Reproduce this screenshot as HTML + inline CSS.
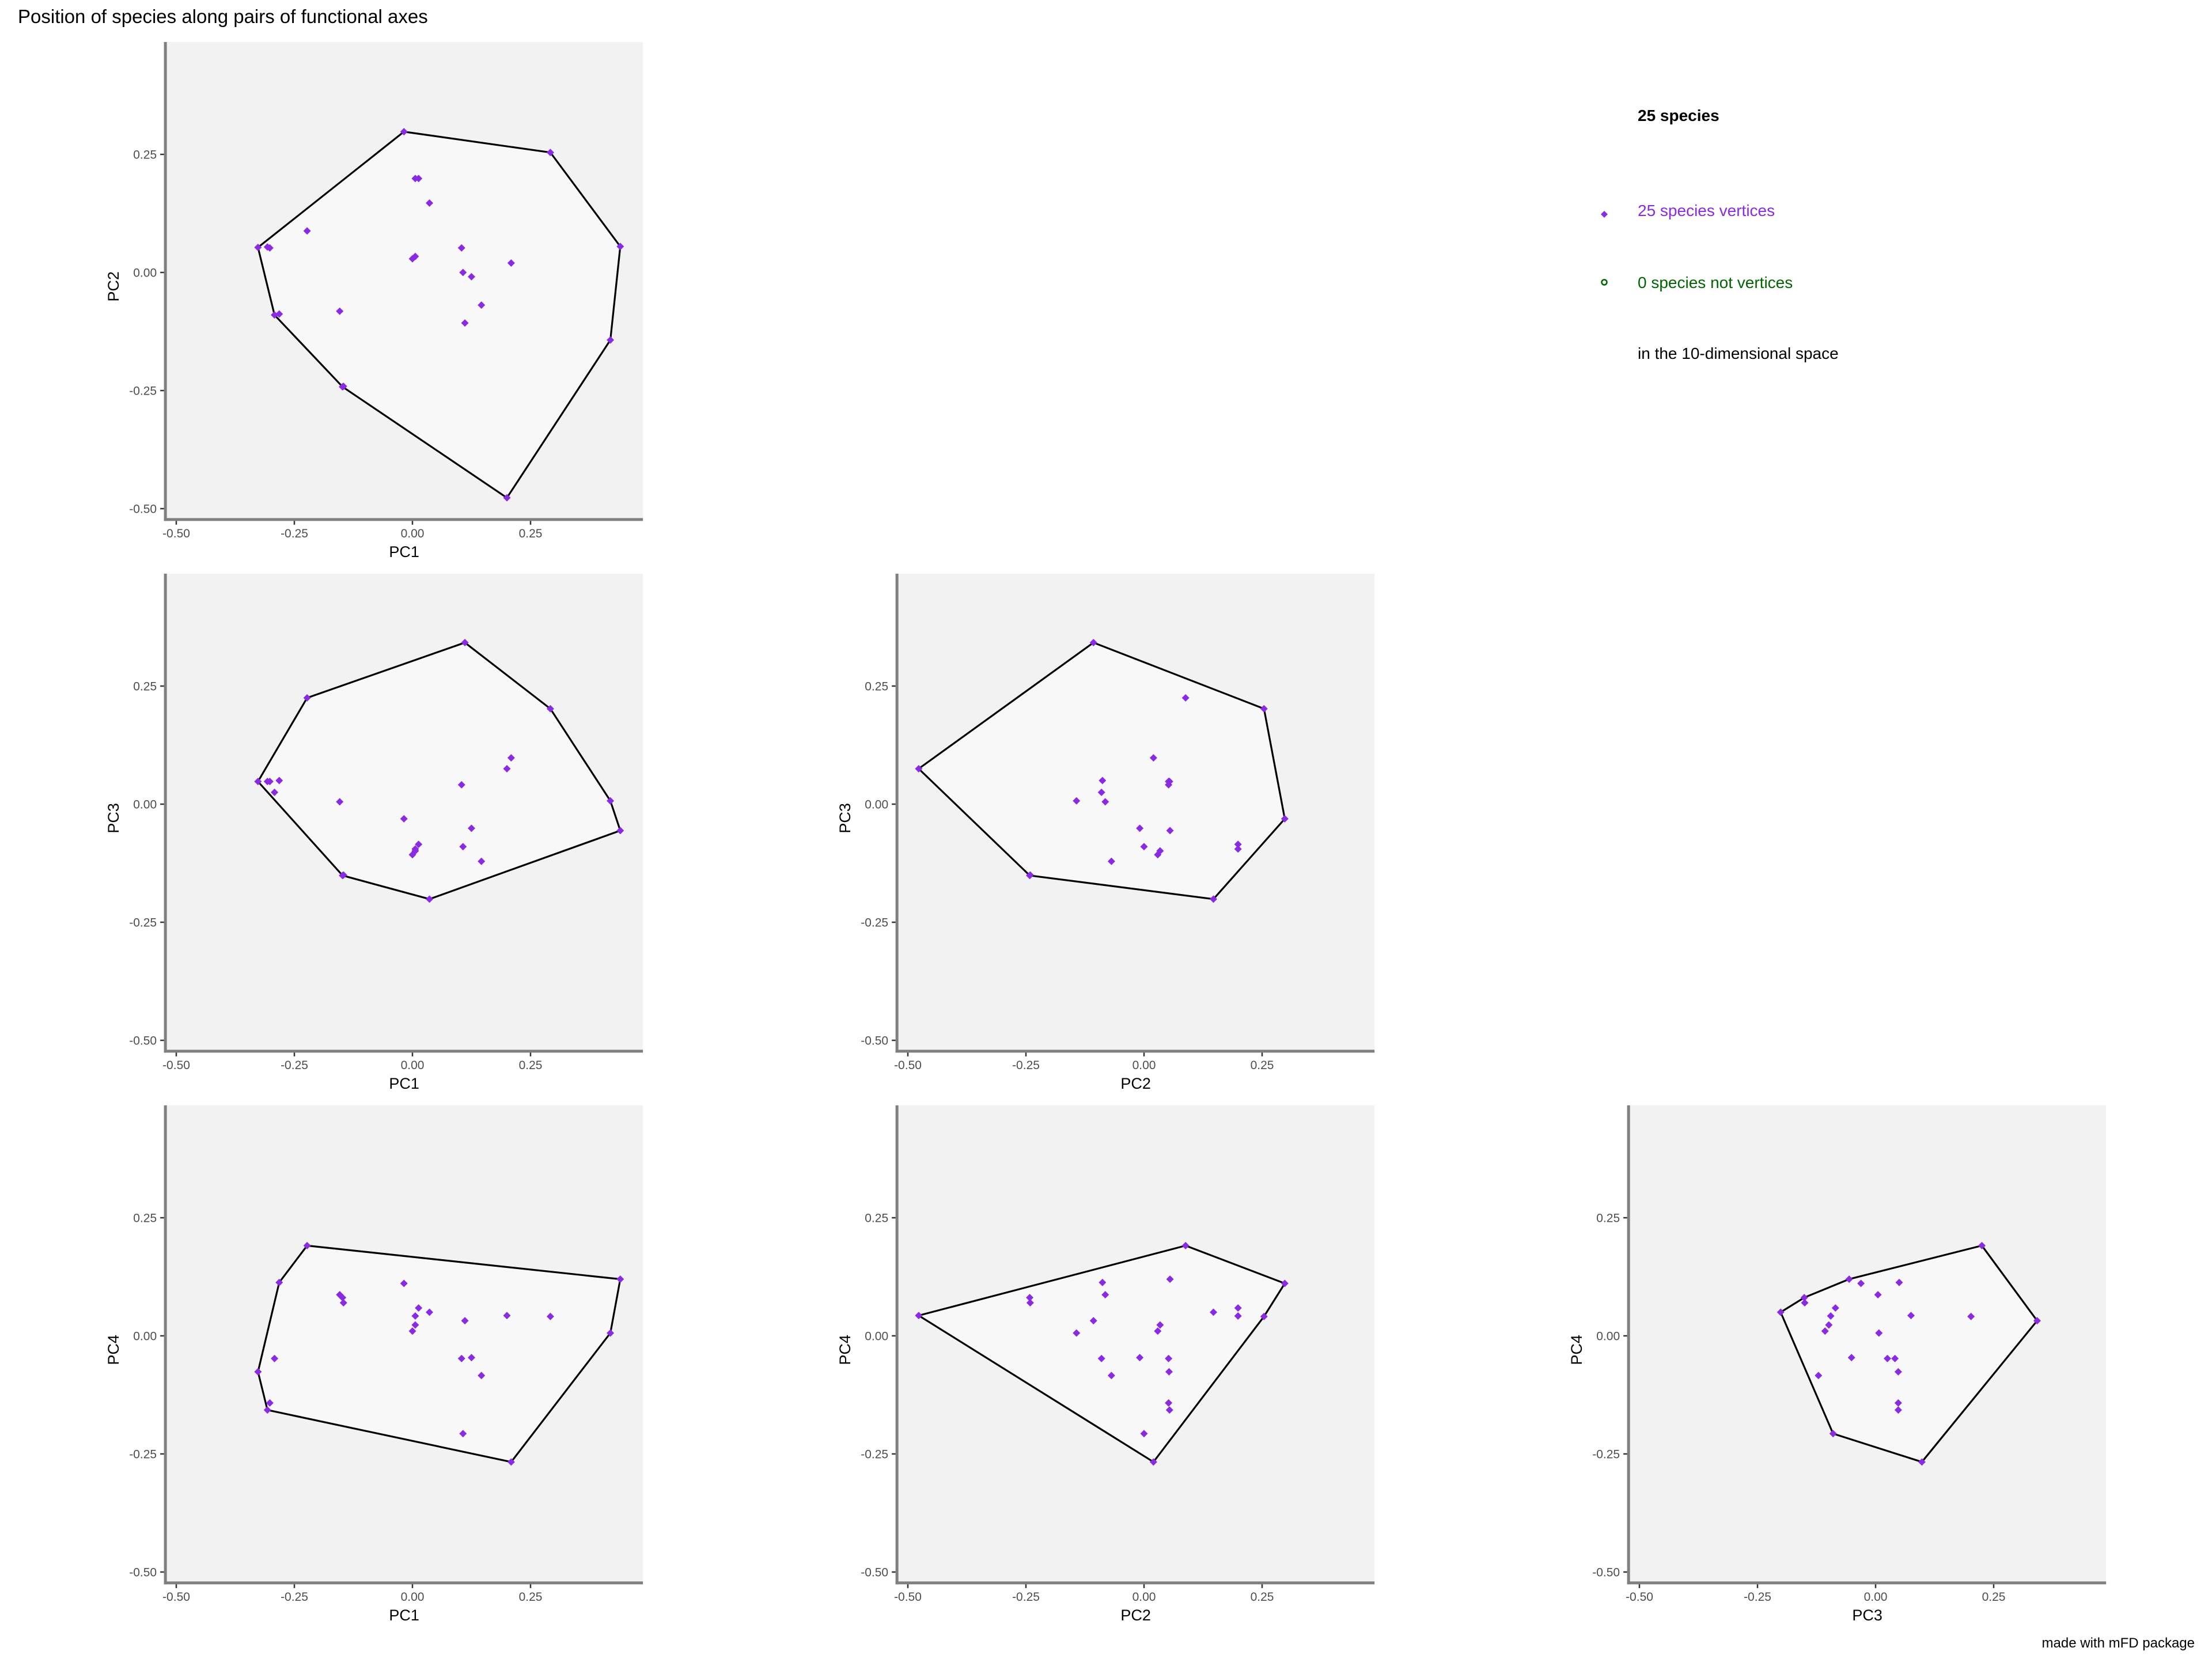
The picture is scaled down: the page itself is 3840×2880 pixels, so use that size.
<!DOCTYPE html>
<html><head><meta charset="utf-8"><style>
html,body{margin:0;padding:0;background:#fff;}
svg{display:block;font-family:"Liberation Sans",Arial,sans-serif;}
</style></head><body>
<svg id="fig" width="3840" height="2880" viewBox="0 0 3840 2880" xmlns="http://www.w3.org/2000/svg">
<rect width="3840" height="2880" fill="#fff"/>
<text x="31" y="40" font-size="33" fill="#000">Position of species along pairs of functional axes</text>
<g>
<text x="2843" y="210" font-size="28" font-weight="bold" fill="#000">25 species</text>
<path d="M2785 366 l6 6 l-6 6 l-6 -6z" fill="#8A2BE2"/>
<text x="2843" y="375" font-size="28" fill="#8A2BE2">25 species vertices</text>
<circle cx="2785" cy="490" r="4.5" fill="none" stroke="#006400" stroke-width="2.5"/>
<text x="2843" y="500" font-size="28" fill="#006400">0 species not vertices</text>
<text x="2843" y="623" font-size="28" fill="#000">in the 10-dimensional space</text>
</g>
<text x="3810" y="2860" font-size="24" text-anchor="end" fill="#000">made with mFD package</text>
<g id="panels"></g>
</svg>
<script>
// Species coordinates on functional axes (one entry per species)
const pc1 = [-0.018,0.292,0.440,0.419,0.200,-0.148,-0.146,-0.292,-0.282,-0.327,-0.307,-0.302,-0.223,-0.154,0.006,0.013,0.036,0.000,0.006,0.104,0.107,0.125,0.209,0.146,0.111];
const pc2 = [0.298,0.254,0.055,-0.143,-0.477,-0.242,-0.241,-0.090,-0.088,0.053,0.054,0.052,0.088,-0.082,0.199,0.199,0.147,0.029,0.034,0.052,0.000,-0.009,0.020,-0.069,-0.107];
const pc3 = [-0.031,0.202,-0.056,0.007,0.075,-0.151,-0.150,0.025,0.050,0.048,0.048,0.048,0.225,0.005,-0.095,-0.085,-0.201,-0.107,-0.099,0.041,-0.090,-0.051,0.098,-0.121,0.342];
const pc4 = [0.111,0.041,0.120,0.006,0.043,0.081,0.070,-0.048,0.113,-0.076,-0.157,-0.142,0.191,0.087,0.042,0.059,0.050,0.010,0.023,-0.048,-0.207,-0.046,-0.267,-0.084,0.032];
const tickValues = [-0.5,-0.25,0,0.25];
const tickLabels = ["-0.50","-0.25","0.00","0.25"];
const axisNames = ["PC1","PC2","PC3","PC4"];

const NS = "http://www.w3.org/2000/svg";
const axes = [pc1,pc2,pc3,pc4];
const colX0 = [716,1986,3256];
const rowY0 = [473,1396,2319];
const S = 820, LO = -0.523, HI = 0.488;
const root = document.getElementById('panels');
function mk(tag, attrs, parent){const e=document.createElementNS(NS,tag);for(const k in attrs)e.setAttribute(k,attrs[k]);parent.appendChild(e);return e;}
function hull(pts){
  const p=pts.slice().sort((a,b)=>a[0]-b[0]||a[1]-b[1]);
  const cr=(o,a,b)=>(a[0]-o[0])*(b[1]-o[1])-(a[1]-o[1])*(b[0]-o[0]);
  const lo=[],up=[];
  for(const q of p){while(lo.length>=2&&cr(lo[lo.length-2],lo[lo.length-1],q)<=0)lo.pop();lo.push(q);}
  for(let i=p.length-1;i>=0;i--){const q=p[i];while(up.length>=2&&cr(up[up.length-2],up[up.length-1],q)<=0)up.pop();up.push(q);}
  lo.pop();up.pop();return lo.concat(up);
}
const pairs=[[0,1,0,0],[0,2,1,0],[1,2,1,1],[0,3,2,0],[1,3,2,1],[2,3,2,2]];
pairs.forEach(([ax,ay,r,c])=>{
  const x0=colX0[c], y0=rowY0[r];
  const sx=v=>x0+v*S, sy=v=>y0-v*S;
  const g=mk('g',{},root);
  
  
  const L=sx(LO),R=sx(HI),T=sy(HI),B=sy(LO);
  const bg=mk('rect',{x:L,y:T,width:R-L,height:B-T,fill:'#F2F2F2'},g);
  
  
  const xs=axes[ax], ys=axes[ay];
  const pts=xs.map((v,i)=>[v,ys[i]]);
  const h=hull(pts);
  const poly=mk('polygon',{points:h.map(p=>sx(p[0])+','+sy(p[1])).join(' '),fill:'#F8F8F8',stroke:'#000','stroke-width':3.2,'stroke-linejoin':'round'},g);
  
  
  pts.forEach(p=>{
    const d=mk('path',{d:`M${sx(p[0])} ${sy(p[1])-6.5} l6.5 6.5 l-6.5 6.5 l-6.5 -6.5z`,fill:'#8A2BE2'},g);
    
    
  });
  // axes lines
  const yl=mk('line',{x1:L,y1:T,x2:L,y2:B+2.5,stroke:'#7F7F7F','stroke-width':5},g);
  
  
  const xl=mk('line',{x1:L-2.5,y1:B,x2:R,y2:B,stroke:'#7F7F7F','stroke-width':5},g);
  
  
  tickValues.forEach((v,i)=>{
    mk('line',{x1:sx(v),y1:B+2.5,x2:sx(v),y2:B+9,stroke:'#333','stroke-width':2.5},g);
    const tx=mk('text',{x:sx(v),y:B+31,'font-size':21,'text-anchor':'middle',fill:'#4D4D4D'},g);
    tx.textContent=tickLabels[i];
    
    
    mk('line',{x1:L-9,y1:sy(v),x2:L-2.5,y2:sy(v),stroke:'#333','stroke-width':2.5},g);
    const ty=mk('text',{x:L-15,y:sy(v)+7.5,'font-size':21,'text-anchor':'end',fill:'#4D4D4D'},g);
    ty.textContent=tickLabels[i];
    
    
  });
  const xt=mk('text',{x:(L+R)/2,y:B+65,'font-size':27,'text-anchor':'middle',fill:'#000'},g);
  xt.textContent=axisNames[ax];
  
  
  const cy=(T+B)/2;
  const yt=mk('text',{x:L-81,y:cy,'font-size':27,'text-anchor':'middle',fill:'#000',transform:`rotate(-90 ${L-81} ${cy})`},g);
  yt.setAttribute('x',L-81); yt.setAttribute('y',cy+10);
  yt.setAttribute('transform',`rotate(-90 ${L-81} ${cy+10})`);
  yt.textContent=axisNames[ay];
  
  
});
</script>
</body></html>
